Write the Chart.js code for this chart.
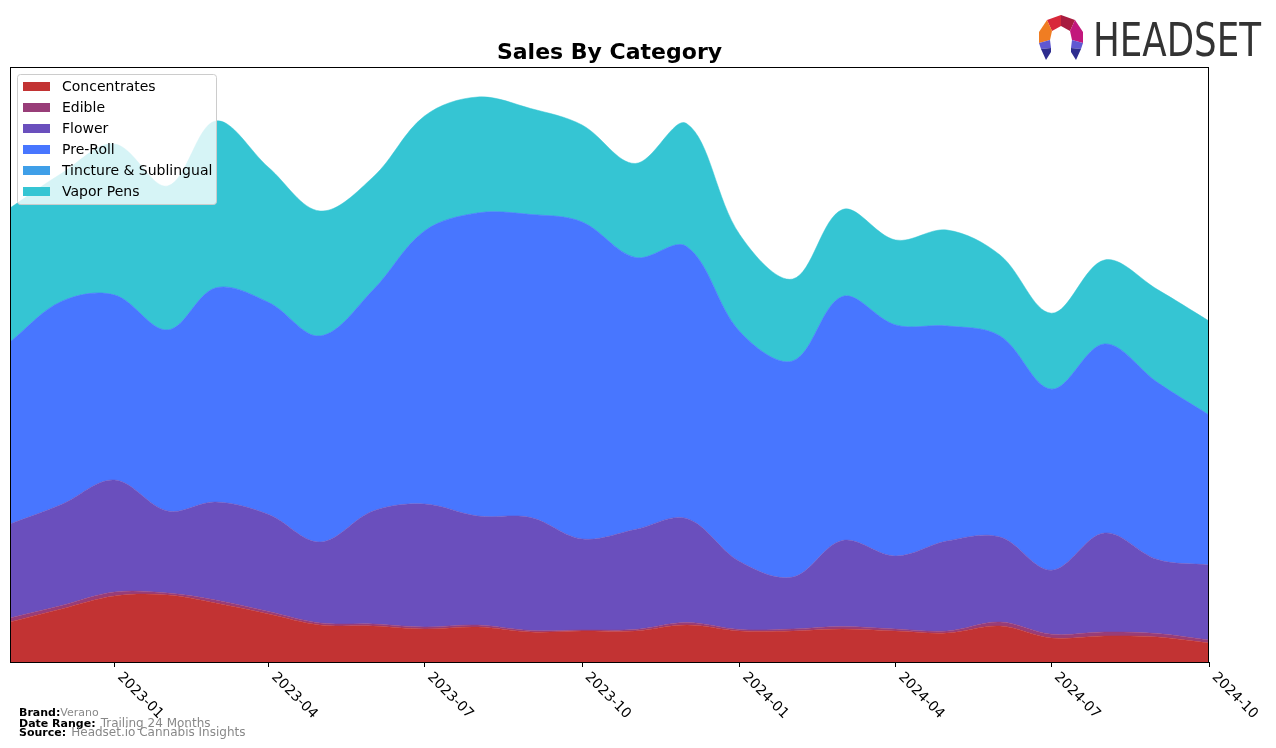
<!DOCTYPE html>
<html>
<head>
<meta charset="utf-8">
<script src="https://cdn.jsdelivr.net/npm/chart.js@4.4.1/dist/chart.umd.min.js"></script>
<style>
  html, body { margin: 0; padding: 0; background: #fff; }
  #wrap { position: relative; width: 1276px; height: 748px; overflow: hidden; }
  #chart { position: absolute; left: 0; top: 0; }
  .foot { position: absolute; left: 19px; font-family: "DejaVu Sans", sans-serif; white-space: nowrap; line-height: 1; }
  .foot b { color: #000; font-size: 11px; }
  .foot span { color: #888; }
  #logo { position: absolute; left: 1036px; top: 12px; }
</style>
</head>
<body>
<div id="wrap">
  <canvas id="chart" width="1276" height="748"></canvas>

  <svg id="logo" width="230" height="52" viewBox="0 0 230 52">
    <polygon points="11,8 25,3 25,14 16,19" fill="#d8283a"/>
    <polygon points="25,3 39,8 34,19 25,14" fill="#a81c40"/>
    <polygon points="39,8 47,20 47,31 36,28 34,19" fill="#c2177c"/>
    <polygon points="11,8 16,19 14,28 3,31 3,20" fill="#f07d22"/>
    <polygon points="3,31 14,28 15,36 5,37" fill="#6058d2"/>
    <polygon points="5,37 15,36 15,40 10,48" fill="#2e2d8f"/>
    <polygon points="47,31 36,28 35,36 45,37" fill="#6058d2"/>
    <polygon points="45,37 35,36 35,40 40,48" fill="#2e2d8f"/>
    <text x="57" y="44" font-family="'Liberation Sans Narrow', 'DejaVu Sans Condensed', 'Liberation Sans', sans-serif" font-size="47" fill="#333" textLength="168" lengthAdjust="spacingAndGlyphs">HEADSET</text>
  </svg>

  <div class="foot" style="top:703px;"><b>Brand:</b><span style="font-size:11px;">Verano</span></div>
  <div class="foot" style="top:714px;"><b>Date Range:</b> <span style="font-size:12px;">Trailing 24 Months</span></div>
  <div class="foot" style="top:723px;"><b>Source:</b> <span style="font-size:12px;">Headset.io Cannabis Insights</span></div>
</div>

<script>
// months shown on the x axis (first of each month)
const months = [
  "2022-11", "2022-12", "2023-01", "2023-02", "2023-03", "2023-04",
  "2023-05", "2023-06", "2023-07", "2023-08", "2023-09", "2023-10",
  "2023-11", "2023-12", "2024-01", "2024-02", "2024-03", "2024-04",
  "2024-05", "2024-06", "2024-07", "2024-08", "2024-09", "2024-10"
];

const tickLabels = ["2023-01", "2023-04", "2023-07", "2023-10", "2024-01", "2024-04", "2024-07", "2024-10"];

// values (relative units, stacked)
const concentrates = [40, 53, 66, 67, 59, 48, 37, 36, 33, 35, 30, 31, 31, 37, 31, 31, 33, 31, 29, 36, 24, 26, 25, 19];
const edible = [4, 3.5, 4, 2, 3, 2.5, 2, 2, 2, 2, 1.5, 1, 1.5, 2.5, 1.5, 2, 2.5, 2, 2, 4, 3.8, 4, 3.4, 3];
const flower = [94, 101, 112, 82, 98, 97, 81, 113, 123, 109, 113, 91, 100, 104, 68, 52, 86, 73, 90, 85, 64, 99, 74, 75];
const preRoll = [182, 203, 185, 181, 214, 212, 206, 221, 273, 303, 303, 317, 272, 272, 230, 216, 244, 231, 215, 201, 181, 189, 177, 150];
const tincture = [0, 0, 0, 0, 0, 0, 0, 0, 0, 0, 0, 0, 0, 0, 0, 0, 0, 0, 0, 0, 0, 0, 0, 0];
const vaporPens = [134, 128, 151, 144, 167, 135, 125, 113, 115, 116, 106, 97, 94, 123, 97, 82, 87, 85, 96, 81, 76, 84, 93, 94];

const Y_MAX = 595;

const series = [
  { label: "Concentrates", data: concentrates, color: "#c23333" },
  { label: "Edible", data: edible, color: "#983d78" },
  { label: "Flower", data: flower, color: "#6a4fbd" },
  { label: "Pre-Roll", data: preRoll, color: "#4876ff" },
  { label: "Tincture & Sublingual", data: tincture, color: "#3f9fe8" },
  { label: "Vapor Pens", data: vaporPens, color: "#35c5d3" },
];

const FONT = "'DejaVu Sans', sans-serif";



function dayOffset(month) {
  const [y, m] = month.split("-").map(Number);
  const start = Date.UTC(2022, 10, 1);
  return (Date.UTC(y, m - 1, 1) - start) / 86400000;
}

const xs = months.map(dayOffset);
const tickValues = tickLabels.map(dayOffset);



const decorations = {
  id: "decorations",
  afterDraw(chart) {
    const ctx = chart.ctx;
    const area = chart.chartArea;
    const xScale = chart.scales.x;

    ctx.save();

    // frame
    ctx.strokeStyle = "#000";
    ctx.lineWidth = 1;
    ctx.strokeRect(area.left + 0.5, area.top + 0.5, area.right - area.left - 1, area.bottom - area.top);

    // title
    ctx.fillStyle = "#000";
    ctx.font = "bold 22px " + FONT;
    ctx.textAlign = "center";
    ctx.textBaseline = "alphabetic";
    ctx.fillText("Sales By Category", (area.left + area.right) / 2, 59);

    // rotated x labels
    ctx.font = "14px " + FONT;
    ctx.textAlign = "left";
    ctx.textBaseline = "top";
    tickLabels.forEach((lab, i) => {
      const px = xScale.getPixelForValue(tickValues[i]);
      ctx.save();
      ctx.translate(px + 5, area.bottom + 13);
      ctx.rotate(Math.PI / 4);
      ctx.fillText(lab, 0, -7);
      ctx.restore();
    });

    // legend
    const lx = 17, ly = 74, lw = 199, lh = 130;
    ctx.fillStyle = "rgba(255,255,255,0.8)";
    ctx.strokeStyle = "#cccccc";
    ctx.beginPath();
    ctx.roundRect(lx + 0.5, ly + 0.5, lw, lh, 3);
    ctx.fill();
    ctx.stroke();

    ctx.font = "14px " + FONT;
    ctx.textBaseline = "middle";
    chart.data.datasets.forEach((ds, i) => {
      const rowY = ly + 12 + i * 21;
      ctx.fillStyle = ds.backgroundColor;
      ctx.fillRect(lx + 6, rowY - 4, 27, 9);
      ctx.fillStyle = "#000";
      ctx.fillText(ds.label, lx + 45, rowY + 1);
    });

    ctx.restore();
  }
};



new Chart(document.getElementById("chart"), {
  type: "line",
  data: {
    datasets: series.map((s, i) => ({
      label: s.label,
      data: s.data.map((v, j) => ({ x: xs[j], y: v })),
      backgroundColor: s.color,
      borderColor: s.color,
      borderWidth: 0.5,
      pointRadius: 0,
      fill: i === 0 ? "origin" : "-1",
      tension: 0.35,
    }))
  },
  options: {
    responsive: false,
    animation: false,
    devicePixelRatio: 1,
    layout: { padding: { left: 10, right: 67, top: 67, bottom: 81 } },
    plugins: {
      legend: { display: false },
      title: { display: false },
      tooltip: { enabled: false },
    },
    scales: {
      x: {
        type: "linear",
        min: 0,
        max: xs[xs.length - 1],
        afterBuildTicks: (scale) => {
          scale.ticks = tickValues.map((v) => ({ value: v }));
        },
        ticks: { display: false },
        grid: {
          drawOnChartArea: false,
          drawTicks: true,
          tickLength: 5,
          color: "#000",
        },
        border: { display: false },
      },
      y: {
        display: false,
        stacked: true,
        min: 0,
        max: Y_MAX,
      },
    },
  },
  plugins: [decorations],
});
</script>
</body>
</html>
